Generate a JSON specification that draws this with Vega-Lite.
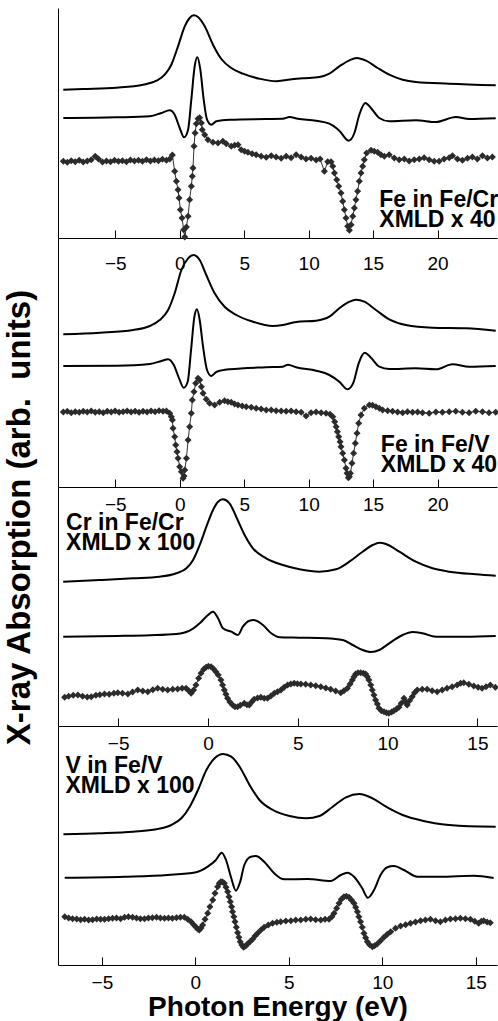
{
  "$schema": "https://vega.github.io/schema/vega-lite/v6.json",
  "padding": {"left": 3, "top": 8, "right": 0, "bottom": 0},
  "config": {
    "view": {"stroke": null},
    "font": "Liberation Sans",
    "axis": {"domainColor": "black", "tickColor": "black", "labelColor": "black", "labelFont": "Liberation Sans", "labelFontSize": 19, "tickSize": -8, "labelPadding": 16, "grid": false, "labelFlush": false, "domainWidth": 1, "tickWidth": 1, "titleColor": "black", "titleFont": "Liberation Sans"}
  },
  "title": {"text": "X-ray Absorption (arb.\u00a0 units)", "orient": "left", "anchor": "middle", "fontSize": 33, "fontWeight": "bold", "font": "Liberation Sans", "color": "black", "offset": 21.5, "dx": -3},
  "spacing": 0,
  "bounds": "flush",
  "datasets": {
    "p1": [
      {"s":"xas","e":-9.03,"a":14.83},{"s":"xas","e":-7.48,"a":14.9},{"s":"xas","e":-4.9,"a":15.03},{"s":"xas","e":-2.84,"a":15.33},{"s":"xas","e":-1.81,"a":15.73},{"s":"xas","e":-1.16,"a":16.33},{"s":"xas","e":-0.65,"a":17.33},{"s":"xas","e":-0.13,"a":19.17},{"s":"xas","e":0.39,"a":21.17},{"s":"xas","e":0.77,"a":22.0},{"s":"xas","e":1.08,"a":22.27},{"s":"xas","e":1.42,"a":22.1},{"s":"xas","e":1.94,"a":21.17},{"s":"xas","e":2.58,"a":19.33},{"s":"xas","e":3.23,"a":17.9},{"s":"xas","e":4.0,"a":17.0},{"s":"xas","e":4.9,"a":16.43},{"s":"xas","e":6.19,"a":15.93},{"s":"xas","e":7.48,"a":15.67},{"s":"xas","e":8.26,"a":15.8},{"s":"xas","e":9.55,"a":15.97},{"s":"xas","e":10.84,"a":16.1},{"s":"xas","e":11.61,"a":16.43},{"s":"xas","e":12.38,"a":17.17},{"s":"xas","e":13.16,"a":17.77},{"s":"xas","e":13.73,"a":18.0},{"s":"xas","e":14.45,"a":17.73},{"s":"xas","e":15.35,"a":17.0},{"s":"xas","e":16.25,"a":16.33},{"s":"xas","e":17.29,"a":15.83},{"s":"xas","e":18.32,"a":15.6},{"s":"xas","e":20.9,"a":15.43},{"s":"xas","e":24.51,"a":15.27},
      {"s":"calc","e":-9.03,"a":12.0},{"s":"calc","e":-4.9,"a":12.07},{"s":"calc","e":-2.32,"a":12.17},{"s":"calc","e":-1.42,"a":12.5},{"s":"calc","e":-0.77,"a":12.77},{"s":"calc","e":-0.39,"a":12.33},{"s":"calc","e":0.0,"a":11.0},{"s":"calc","e":0.34,"a":10.07},{"s":"calc","e":0.65,"a":10.83},{"s":"calc","e":0.9,"a":13.83},{"s":"calc","e":1.16,"a":17.17},{"s":"calc","e":1.37,"a":18.07},{"s":"calc","e":1.6,"a":16.83},{"s":"calc","e":1.86,"a":13.83},{"s":"calc","e":2.12,"a":11.83},{"s":"calc","e":2.45,"a":11.33},{"s":"calc","e":2.84,"a":11.67},{"s":"calc","e":3.87,"a":11.83},{"s":"calc","e":6.71,"a":11.9},{"s":"calc","e":8.0,"a":11.93},{"s":"calc","e":8.51,"a":12.1},{"s":"calc","e":9.16,"a":11.93},{"s":"calc","e":10.58,"a":11.73},{"s":"calc","e":11.61,"a":11.43},{"s":"calc","e":12.38,"a":10.73},{"s":"calc","e":13.1,"a":9.73},{"s":"calc","e":13.55,"a":10.5},{"s":"calc","e":13.93,"a":12.33},{"s":"calc","e":14.4,"a":13.5},{"s":"calc","e":14.83,"a":13.0},{"s":"calc","e":15.48,"a":12.0},{"s":"calc","e":16.25,"a":11.67},{"s":"calc","e":18.32,"a":11.77},{"s":"calc","e":19.87,"a":11.6},{"s":"calc","e":21.42,"a":12.1},{"s":"calc","e":22.45,"a":11.9},{"s":"calc","e":24.51,"a":11.97},
      {"s":"exp","e":-9.03,"a":7.67},{"s":"exp","e":-8.72,"a":7.57},{"s":"exp","e":-8.41,"a":7.73},{"s":"exp","e":-8.1,"a":7.63},{"s":"exp","e":-7.79,"a":7.77},{"s":"exp","e":-7.48,"a":7.6},{"s":"exp","e":-7.17,"a":7.7},{"s":"exp","e":-6.86,"a":7.83},{"s":"exp","e":-6.55,"a":8.17},{"s":"exp","e":-6.3,"a":7.9},{"s":"exp","e":-5.99,"a":7.6},{"s":"exp","e":-5.68,"a":7.7},{"s":"exp","e":-5.37,"a":7.63},{"s":"exp","e":-5.06,"a":7.77},{"s":"exp","e":-4.75,"a":7.67},{"s":"exp","e":-4.44,"a":7.73},{"s":"exp","e":-4.13,"a":7.63},{"s":"exp","e":-3.82,"a":7.8},{"s":"exp","e":-3.51,"a":7.7},{"s":"exp","e":-3.2,"a":7.77},{"s":"exp","e":-2.89,"a":7.67},{"s":"exp","e":-2.58,"a":7.83},{"s":"exp","e":-2.27,"a":7.7},{"s":"exp","e":-1.96,"a":7.8},{"s":"exp","e":-1.65,"a":7.73},{"s":"exp","e":-1.34,"a":7.87},{"s":"exp","e":-1.03,"a":7.77},{"s":"exp","e":-0.77,"a":7.9},{"s":"exp","e":-0.57,"a":8.3},{"s":"exp","e":-0.39,"a":6.67},{"s":"exp","e":-0.26,"a":5.67},{"s":"exp","e":-0.13,"a":4.83},{"s":"exp","e":-0.05,"a":4.0},{"s":"exp","e":0.05,"a":2.83},{"s":"exp","e":0.18,"a":2.0},{"s":"exp","e":0.31,"a":0.83},{"s":"exp","e":0.39,"a":0.1},{"s":"exp","e":0.52,"a":1.1},{"s":"exp","e":0.65,"a":2.17},{"s":"exp","e":0.77,"a":3.83},{"s":"exp","e":0.9,"a":5.17},{"s":"exp","e":0.98,"a":6.17},{"s":"exp","e":1.03,"a":7.0},{"s":"exp","e":1.11,"a":9.17},{"s":"exp","e":1.19,"a":10.5},{"s":"exp","e":1.29,"a":11.43},{"s":"exp","e":1.42,"a":11.93},{"s":"exp","e":1.55,"a":12.03},{"s":"exp","e":1.68,"a":11.5},{"s":"exp","e":1.75,"a":10.83},{"s":"exp","e":1.94,"a":10.33},{"s":"exp","e":2.19,"a":9.83},{"s":"exp","e":2.58,"a":9.57},{"s":"exp","e":2.97,"a":9.5},{"s":"exp","e":3.35,"a":9.67},{"s":"exp","e":3.61,"a":9.43},{"s":"exp","e":4.0,"a":9.17},{"s":"exp","e":4.26,"a":9.27},{"s":"exp","e":4.52,"a":9.33},{"s":"exp","e":4.77,"a":8.83},{"s":"exp","e":5.03,"a":8.67},{"s":"exp","e":5.29,"a":8.57},{"s":"exp","e":5.62,"a":8.43},{"s":"exp","e":5.93,"a":8.33},{"s":"exp","e":6.32,"a":8.17},{"s":"exp","e":6.71,"a":8.07},{"s":"exp","e":7.1,"a":8.23},{"s":"exp","e":7.48,"a":8.1},{"s":"exp","e":7.87,"a":7.97},{"s":"exp","e":8.26,"a":8.17},{"s":"exp","e":8.64,"a":8.03},{"s":"exp","e":9.03,"a":8.33},{"s":"exp","e":9.42,"a":8.1},{"s":"exp","e":9.8,"a":7.9},{"s":"exp","e":10.19,"a":7.97},{"s":"exp","e":10.58,"a":7.8},{"s":"exp","e":10.89,"a":7.9},{"s":"exp","e":11.22,"a":6.67},{"s":"exp","e":11.48,"a":7.63},{"s":"exp","e":11.74,"a":7.63},{"s":"exp","e":11.87,"a":7.17},{"s":"exp","e":12.0,"a":6.5},{"s":"exp","e":12.18,"a":5.83},{"s":"exp","e":12.33,"a":5.17},{"s":"exp","e":12.51,"a":4.5},{"s":"exp","e":12.64,"a":3.67},{"s":"exp","e":12.77,"a":2.83},{"s":"exp","e":12.9,"a":2.0},{"s":"exp","e":13.03,"a":1.17},{"s":"exp","e":13.16,"a":0.77},{"s":"exp","e":13.29,"a":1.33},{"s":"exp","e":13.42,"a":2.17},{"s":"exp","e":13.55,"a":3.0},{"s":"exp","e":13.67,"a":3.83},{"s":"exp","e":13.8,"a":4.67},{"s":"exp","e":13.93,"a":5.67},{"s":"exp","e":14.06,"a":6.5},{"s":"exp","e":14.19,"a":7.17},{"s":"exp","e":14.32,"a":7.83},{"s":"exp","e":14.5,"a":8.5},{"s":"exp","e":14.84,"a":8.77},{"s":"exp","e":15.09,"a":8.67},{"s":"exp","e":15.35,"a":8.57},{"s":"exp","e":15.61,"a":8.33},{"s":"exp","e":15.87,"a":8.17},{"s":"exp","e":16.25,"a":8.33},{"s":"exp","e":16.64,"a":8.0},{"s":"exp","e":17.03,"a":7.83},{"s":"exp","e":17.42,"a":7.9},{"s":"exp","e":17.8,"a":7.7},{"s":"exp","e":18.19,"a":7.83},{"s":"exp","e":18.58,"a":7.9},{"s":"exp","e":18.96,"a":8.03},{"s":"exp","e":19.35,"a":7.83},{"s":"exp","e":19.74,"a":7.67},{"s":"exp","e":20.12,"a":7.67},{"s":"exp","e":20.51,"a":7.9},{"s":"exp","e":20.9,"a":8.03},{"s":"exp","e":21.16,"a":8.23},{"s":"exp","e":21.54,"a":7.9},{"s":"exp","e":21.93,"a":7.77},{"s":"exp","e":22.32,"a":7.97},{"s":"exp","e":22.7,"a":8.1},{"s":"exp","e":23.09,"a":7.9},{"s":"exp","e":23.48,"a":8.23},{"s":"exp","e":23.87,"a":8.0},{"s":"exp","e":24.25,"a":8.1}
    ],
    "p2": [
      {"s":"xas","e":-9.03,"a":15.27},{"s":"xas","e":-6.19,"a":15.43},{"s":"xas","e":-3.61,"a":15.7},{"s":"xas","e":-2.32,"a":16.1},{"s":"xas","e":-1.55,"a":16.7},{"s":"xas","e":-0.9,"a":17.7},{"s":"xas","e":-0.39,"a":19.37},{"s":"xas","e":0.13,"a":21.7},{"s":"xas","e":0.65,"a":22.87},{"s":"xas","e":1.08,"a":23.2},{"s":"xas","e":1.55,"a":22.7},{"s":"xas","e":2.06,"a":21.2},{"s":"xas","e":2.71,"a":19.37},{"s":"xas","e":3.48,"a":18.03},{"s":"xas","e":4.39,"a":17.2},{"s":"xas","e":5.68,"a":16.53},{"s":"xas","e":7.22,"a":16.1},{"s":"xas","e":8.0,"a":16.2},{"s":"xas","e":9.03,"a":16.5},{"s":"xas","e":10.58,"a":16.63},{"s":"xas","e":11.61,"a":17.03},{"s":"xas","e":12.38,"a":17.87},{"s":"xas","e":13.16,"a":18.53},{"s":"xas","e":13.67,"a":18.73},{"s":"xas","e":14.32,"a":18.53},{"s":"xas","e":15.22,"a":17.7},{"s":"xas","e":16.25,"a":16.77},{"s":"xas","e":17.54,"a":16.2},{"s":"xas","e":19.61,"a":15.93},{"s":"xas","e":22.19,"a":15.87},{"s":"xas","e":24.51,"a":15.63},
      {"s":"calc","e":-9.03,"a":12.1},{"s":"calc","e":-4.9,"a":12.13},{"s":"calc","e":-2.32,"a":12.3},{"s":"calc","e":-1.42,"a":12.6},{"s":"calc","e":-0.9,"a":12.77},{"s":"calc","e":-0.46,"a":12.2},{"s":"calc","e":-0.05,"a":10.87},{"s":"calc","e":0.31,"a":9.93},{"s":"calc","e":0.62,"a":10.53},{"s":"calc","e":0.88,"a":13.7},{"s":"calc","e":1.14,"a":17.03},{"s":"calc","e":1.34,"a":17.77},{"s":"calc","e":1.55,"a":16.7},{"s":"calc","e":1.81,"a":14.03},{"s":"calc","e":2.12,"a":11.7},{"s":"calc","e":2.45,"a":11.1},{"s":"calc","e":2.84,"a":11.5},{"s":"calc","e":3.87,"a":11.77},{"s":"calc","e":6.71,"a":11.97},{"s":"calc","e":8.0,"a":12.03},{"s":"calc","e":8.39,"a":12.23},{"s":"calc","e":9.03,"a":11.97},{"s":"calc","e":10.58,"a":11.63},{"s":"calc","e":11.61,"a":11.2},{"s":"calc","e":12.38,"a":10.53},{"s":"calc","e":13.03,"a":9.77},{"s":"calc","e":13.47,"a":10.43},{"s":"calc","e":13.88,"a":12.37},{"s":"calc","e":14.35,"a":13.43},{"s":"calc","e":14.76,"a":13.03},{"s":"calc","e":15.48,"a":12.03},{"s":"calc","e":16.25,"a":11.8},{"s":"calc","e":18.32,"a":11.87},{"s":"calc","e":19.87,"a":11.77},{"s":"calc","e":21.16,"a":12.27},{"s":"calc","e":22.45,"a":12.03},{"s":"calc","e":24.51,"a":12.1},
      {"s":"exp","e":-9.03,"a":7.5},{"s":"exp","e":-8.72,"a":7.57},{"s":"exp","e":-8.41,"a":7.43},{"s":"exp","e":-8.1,"a":7.53},{"s":"exp","e":-7.79,"a":7.47},{"s":"exp","e":-7.48,"a":7.57},{"s":"exp","e":-7.17,"a":7.5},{"s":"exp","e":-6.86,"a":7.6},{"s":"exp","e":-6.55,"a":7.47},{"s":"exp","e":-6.24,"a":7.53},{"s":"exp","e":-5.93,"a":7.43},{"s":"exp","e":-5.62,"a":7.57},{"s":"exp","e":-5.31,"a":7.5},{"s":"exp","e":-5.01,"a":7.6},{"s":"exp","e":-4.7,"a":7.47},{"s":"exp","e":-4.39,"a":7.53},{"s":"exp","e":-4.08,"a":7.6},{"s":"exp","e":-3.77,"a":7.5},{"s":"exp","e":-3.46,"a":7.57},{"s":"exp","e":-3.15,"a":7.47},{"s":"exp","e":-2.84,"a":7.57},{"s":"exp","e":-2.53,"a":7.5},{"s":"exp","e":-2.22,"a":7.6},{"s":"exp","e":-1.91,"a":7.53},{"s":"exp","e":-1.6,"a":7.63},{"s":"exp","e":-1.29,"a":7.57},{"s":"exp","e":-1.03,"a":7.6},{"s":"exp","e":-0.77,"a":7.37},{"s":"exp","e":-0.65,"a":7.03},{"s":"exp","e":-0.57,"a":6.7},{"s":"exp","e":-0.52,"a":5.87},{"s":"exp","e":-0.39,"a":5.03},{"s":"exp","e":-0.31,"a":4.2},{"s":"exp","e":-0.21,"a":3.53},{"s":"exp","e":-0.13,"a":2.87},{"s":"exp","e":0.0,"a":2.03},{"s":"exp","e":0.13,"a":1.53},{"s":"exp","e":0.26,"a":0.87},{"s":"exp","e":0.34,"a":1.1},{"s":"exp","e":0.39,"a":1.7},{"s":"exp","e":0.52,"a":2.87},{"s":"exp","e":0.65,"a":4.7},{"s":"exp","e":0.77,"a":6.03},{"s":"exp","e":0.9,"a":7.37},{"s":"exp","e":0.98,"a":8.7},{"s":"exp","e":1.11,"a":9.53},{"s":"exp","e":1.24,"a":10.37},{"s":"exp","e":1.42,"a":10.87},{"s":"exp","e":1.55,"a":10.7},{"s":"exp","e":1.68,"a":10.03},{"s":"exp","e":1.81,"a":9.37},{"s":"exp","e":2.06,"a":8.77},{"s":"exp","e":2.32,"a":8.37},{"s":"exp","e":2.71,"a":8.2},{"s":"exp","e":3.1,"a":8.47},{"s":"exp","e":3.48,"a":8.63},{"s":"exp","e":3.74,"a":8.53},{"s":"exp","e":4.0,"a":8.47},{"s":"exp","e":4.26,"a":8.3},{"s":"exp","e":4.52,"a":8.2},{"s":"exp","e":4.85,"a":8.1},{"s":"exp","e":5.16,"a":8.03},{"s":"exp","e":5.55,"a":7.97},{"s":"exp","e":5.93,"a":7.87},{"s":"exp","e":6.32,"a":7.8},{"s":"exp","e":6.71,"a":7.7},{"s":"exp","e":7.1,"a":7.7},{"s":"exp","e":7.48,"a":7.63},{"s":"exp","e":7.87,"a":7.6},{"s":"exp","e":8.26,"a":7.57},{"s":"exp","e":8.64,"a":7.6},{"s":"exp","e":9.03,"a":7.53},{"s":"exp","e":9.42,"a":7.47},{"s":"exp","e":9.8,"a":7.1},{"s":"exp","e":10.19,"a":7.43},{"s":"exp","e":10.58,"a":7.5},{"s":"exp","e":10.97,"a":7.43},{"s":"exp","e":11.35,"a":7.37},{"s":"exp","e":11.66,"a":7.27},{"s":"exp","e":11.87,"a":7.03},{"s":"exp","e":12.02,"a":6.53},{"s":"exp","e":12.13,"a":6.03},{"s":"exp","e":12.23,"a":5.53},{"s":"exp","e":12.33,"a":5.03},{"s":"exp","e":12.44,"a":4.53},{"s":"exp","e":12.51,"a":4.03},{"s":"exp","e":12.64,"a":3.37},{"s":"exp","e":12.77,"a":2.7},{"s":"exp","e":12.9,"a":1.87},{"s":"exp","e":12.98,"a":1.37},{"s":"exp","e":13.08,"a":0.93},{"s":"exp","e":13.16,"a":1.03},{"s":"exp","e":13.24,"a":1.37},{"s":"exp","e":13.36,"a":2.37},{"s":"exp","e":13.49,"a":3.37},{"s":"exp","e":13.62,"a":4.37},{"s":"exp","e":13.75,"a":5.37},{"s":"exp","e":13.88,"a":6.37},{"s":"exp","e":14.06,"a":7.2},{"s":"exp","e":14.32,"a":7.87},{"s":"exp","e":14.71,"a":8.2},{"s":"exp","e":14.96,"a":8.17},{"s":"exp","e":15.22,"a":8.03},{"s":"exp","e":15.48,"a":7.87},{"s":"exp","e":15.74,"a":7.7},{"s":"exp","e":16.13,"a":7.63},{"s":"exp","e":16.51,"a":7.57},{"s":"exp","e":16.9,"a":7.5},{"s":"exp","e":17.29,"a":7.43},{"s":"exp","e":17.67,"a":7.53},{"s":"exp","e":18.06,"a":7.47},{"s":"exp","e":18.45,"a":7.5},{"s":"exp","e":18.83,"a":7.43},{"s":"exp","e":19.35,"a":7.37},{"s":"exp","e":19.87,"a":7.5},{"s":"exp","e":20.38,"a":7.47},{"s":"exp","e":20.9,"a":7.53},{"s":"exp","e":21.41,"a":7.57},{"s":"exp","e":21.93,"a":7.47},{"s":"exp","e":22.45,"a":7.43},{"s":"exp","e":22.96,"a":7.57},{"s":"exp","e":23.48,"a":7.53},{"s":"exp","e":23.99,"a":7.43},{"s":"exp","e":24.51,"a":7.47}
    ],
    "p3": [
      {"s":"xas","e":-8.06,"a":14.43},{"s":"xas","e":-6.02,"a":14.6},{"s":"xas","e":-4.17,"a":14.77},{"s":"xas","e":-2.69,"a":14.93},{"s":"xas","e":-1.76,"a":15.27},{"s":"xas","e":-1.2,"a":15.77},{"s":"xas","e":-0.83,"a":16.6},{"s":"xas","e":-0.46,"a":18.1},{"s":"xas","e":-0.09,"a":19.93},{"s":"xas","e":0.28,"a":21.6},{"s":"xas","e":0.56,"a":22.43},{"s":"xas","e":0.83,"a":22.67},{"s":"xas","e":1.2,"a":22.27},{"s":"xas","e":1.57,"a":20.93},{"s":"xas","e":2.04,"a":19.1},{"s":"xas","e":2.5,"a":17.77},{"s":"xas","e":3.24,"a":16.77},{"s":"xas","e":4.17,"a":16.1},{"s":"xas","e":5.09,"a":15.67},{"s":"xas","e":6.2,"a":15.43},{"s":"xas","e":7.13,"a":15.67},{"s":"xas","e":7.87,"a":16.43},{"s":"xas","e":8.61,"a":17.43},{"s":"xas","e":9.17,"a":18.1},{"s":"xas","e":9.54,"a":18.33},{"s":"xas","e":9.91,"a":18.2},{"s":"xas","e":10.65,"a":17.43},{"s":"xas","e":11.57,"a":16.43},{"s":"xas","e":12.5,"a":15.77},{"s":"xas","e":13.43,"a":15.43},{"s":"xas","e":14.91,"a":15.17},{"s":"xas","e":16.02,"a":15.03},
      {"s":"calc","e":-8.06,"a":8.93},{"s":"calc","e":-5.09,"a":9.0},{"s":"calc","e":-3.24,"a":9.07},{"s":"calc","e":-1.76,"a":9.2},{"s":"calc","e":-1.02,"a":9.53},{"s":"calc","e":-0.46,"a":10.27},{"s":"calc","e":0.0,"a":11.1},{"s":"calc","e":0.28,"a":11.43},{"s":"calc","e":0.56,"a":10.77},{"s":"calc","e":0.83,"a":9.77},{"s":"calc","e":1.3,"a":9.43},{"s":"calc","e":1.67,"a":9.1},{"s":"calc","e":1.94,"a":9.93},{"s":"calc","e":2.31,"a":10.53},{"s":"calc","e":2.54,"a":10.6},{"s":"calc","e":3.06,"a":10.1},{"s":"calc","e":3.52,"a":9.27},{"s":"calc","e":3.98,"a":8.87},{"s":"calc","e":5.09,"a":8.83},{"s":"calc","e":6.57,"a":8.77},{"s":"calc","e":7.5,"a":8.6},{"s":"calc","e":8.06,"a":8.1},{"s":"calc","e":8.61,"a":7.6},{"s":"calc","e":9.07,"a":7.4},{"s":"calc","e":9.54,"a":7.6},{"s":"calc","e":10.09,"a":8.27},{"s":"calc","e":10.83,"a":9.1},{"s":"calc","e":11.39,"a":9.4},{"s":"calc","e":11.94,"a":9.27},{"s":"calc","e":12.69,"a":8.93},{"s":"calc","e":14.35,"a":8.93},{"s":"calc","e":16.02,"a":9.0},
      {"s":"exp","e":-7.98,"a":2.87},{"s":"exp","e":-7.76,"a":2.97},{"s":"exp","e":-7.5,"a":3.07},{"s":"exp","e":-7.24,"a":3.1},{"s":"exp","e":-6.98,"a":2.97},{"s":"exp","e":-6.72,"a":2.9},{"s":"exp","e":-6.5,"a":2.93},{"s":"exp","e":-6.24,"a":3.07},{"s":"exp","e":-6.02,"a":3.13},{"s":"exp","e":-5.76,"a":3.2},{"s":"exp","e":-5.5,"a":3.17},{"s":"exp","e":-5.24,"a":3.27},{"s":"exp","e":-5.02,"a":3.33},{"s":"exp","e":-4.76,"a":3.27},{"s":"exp","e":-4.46,"a":3.2},{"s":"exp","e":-4.2,"a":3.4},{"s":"exp","e":-3.91,"a":3.6},{"s":"exp","e":-3.63,"a":3.5},{"s":"exp","e":-3.35,"a":3.43},{"s":"exp","e":-3.07,"a":3.63},{"s":"exp","e":-2.8,"a":3.77},{"s":"exp","e":-2.52,"a":3.67},{"s":"exp","e":-2.24,"a":3.6},{"s":"exp","e":-1.96,"a":3.67},{"s":"exp","e":-1.69,"a":3.7},{"s":"exp","e":-1.44,"a":3.77},{"s":"exp","e":-1.22,"a":3.77},{"s":"exp","e":-1.07,"a":3.53},{"s":"exp","e":-0.94,"a":3.27},{"s":"exp","e":-0.8,"a":3.6},{"s":"exp","e":-0.67,"a":4.1},{"s":"exp","e":-0.52,"a":4.77},{"s":"exp","e":-0.39,"a":5.27},{"s":"exp","e":-0.24,"a":5.67},{"s":"exp","e":-0.11,"a":5.87},{"s":"exp","e":0.02,"a":5.97},{"s":"exp","e":0.17,"a":5.93},{"s":"exp","e":0.3,"a":5.73},{"s":"exp","e":0.44,"a":5.43},{"s":"exp","e":0.57,"a":5.1},{"s":"exp","e":0.72,"a":4.6},{"s":"exp","e":0.81,"a":4.1},{"s":"exp","e":0.91,"a":3.6},{"s":"exp","e":1.0,"a":3.17},{"s":"exp","e":1.09,"a":2.77},{"s":"exp","e":1.22,"a":2.4},{"s":"exp","e":1.37,"a":2.1},{"s":"exp","e":1.5,"a":1.93},{"s":"exp","e":1.65,"a":1.93},{"s":"exp","e":1.8,"a":2.07},{"s":"exp","e":2.02,"a":2.27},{"s":"exp","e":2.17,"a":2.13},{"s":"exp","e":2.3,"a":2.1},{"s":"exp","e":2.43,"a":2.4},{"s":"exp","e":2.57,"a":2.67},{"s":"exp","e":2.76,"a":2.8},{"s":"exp","e":2.94,"a":2.87},{"s":"exp","e":3.13,"a":2.77},{"s":"exp","e":3.31,"a":2.77},{"s":"exp","e":3.5,"a":3.0},{"s":"exp","e":3.69,"a":3.27},{"s":"exp","e":3.87,"a":3.43},{"s":"exp","e":4.06,"a":3.6},{"s":"exp","e":4.24,"a":3.87},{"s":"exp","e":4.43,"a":4.1},{"s":"exp","e":4.61,"a":4.2},{"s":"exp","e":4.8,"a":4.27},{"s":"exp","e":4.98,"a":4.23},{"s":"exp","e":5.17,"a":4.2},{"s":"exp","e":5.44,"a":4.17},{"s":"exp","e":5.72,"a":4.1},{"s":"exp","e":6.0,"a":4.03},{"s":"exp","e":6.28,"a":3.93},{"s":"exp","e":6.56,"a":3.8},{"s":"exp","e":6.83,"a":3.67},{"s":"exp","e":7.11,"a":3.5},{"s":"exp","e":7.39,"a":3.33},{"s":"exp","e":7.57,"a":3.53},{"s":"exp","e":7.76,"a":3.77},{"s":"exp","e":7.91,"a":4.2},{"s":"exp","e":8.04,"a":4.6},{"s":"exp","e":8.13,"a":4.93},{"s":"exp","e":8.22,"a":5.2},{"s":"exp","e":8.35,"a":5.33},{"s":"exp","e":8.5,"a":5.33},{"s":"exp","e":8.65,"a":5.27},{"s":"exp","e":8.78,"a":5.2},{"s":"exp","e":8.87,"a":4.93},{"s":"exp","e":8.96,"a":4.6},{"s":"exp","e":9.06,"a":4.1},{"s":"exp","e":9.15,"a":3.6},{"s":"exp","e":9.24,"a":3.1},{"s":"exp","e":9.33,"a":2.6},{"s":"exp","e":9.43,"a":2.2},{"s":"exp","e":9.52,"a":1.77},{"s":"exp","e":9.65,"a":1.53},{"s":"exp","e":9.8,"a":1.43},{"s":"exp","e":9.94,"a":1.33},{"s":"exp","e":10.07,"a":1.27},{"s":"exp","e":10.22,"a":1.4},{"s":"exp","e":10.35,"a":1.53},{"s":"exp","e":10.5,"a":1.7},{"s":"exp","e":10.63,"a":1.87},{"s":"exp","e":10.76,"a":2.27},{"s":"exp","e":10.91,"a":2.77},{"s":"exp","e":11.0,"a":2.43},{"s":"exp","e":11.09,"a":2.1},{"s":"exp","e":11.22,"a":2.53},{"s":"exp","e":11.37,"a":2.93},{"s":"exp","e":11.5,"a":3.33},{"s":"exp","e":11.65,"a":3.6},{"s":"exp","e":11.93,"a":3.67},{"s":"exp","e":12.2,"a":3.67},{"s":"exp","e":12.48,"a":3.53},{"s":"exp","e":12.76,"a":3.43},{"s":"exp","e":13.04,"a":3.6},{"s":"exp","e":13.31,"a":3.77},{"s":"exp","e":13.59,"a":3.93},{"s":"exp","e":13.87,"a":4.1},{"s":"exp","e":14.06,"a":4.27},{"s":"exp","e":14.24,"a":4.33},{"s":"exp","e":14.52,"a":4.17},{"s":"exp","e":14.8,"a":4.0},{"s":"exp","e":15.04,"a":3.87},{"s":"exp","e":15.26,"a":3.77},{"s":"exp","e":15.48,"a":3.93},{"s":"exp","e":15.72,"a":4.1},{"s":"exp","e":16.0,"a":3.87}
    ],
    "p4": [
      {"s":"xas","e":-7.06,"a":13.07},{"s":"xas","e":-5.11,"a":13.17},{"s":"xas","e":-3.33,"a":13.33},{"s":"xas","e":-2.08,"a":13.57},{"s":"xas","e":-1.28,"a":14.0},{"s":"xas","e":-0.75,"a":14.67},{"s":"xas","e":-0.3,"a":15.83},{"s":"xas","e":0.14,"a":17.5},{"s":"xas","e":0.59,"a":19.5},{"s":"xas","e":1.03,"a":20.67},{"s":"xas","e":1.48,"a":21.1},{"s":"xas","e":1.92,"a":20.83},{"s":"xas","e":2.37,"a":19.83},{"s":"xas","e":2.9,"a":18.0},{"s":"xas","e":3.43,"a":16.5},{"s":"xas","e":4.15,"a":15.5},{"s":"xas","e":5.04,"a":14.9},{"s":"xas","e":5.93,"a":14.67},{"s":"xas","e":6.64,"a":14.9},{"s":"xas","e":7.35,"a":15.83},{"s":"xas","e":8.06,"a":16.77},{"s":"xas","e":8.77,"a":17.1},{"s":"xas","e":9.48,"a":16.67},{"s":"xas","e":10.2,"a":15.83},{"s":"xas","e":11.09,"a":15.0},{"s":"xas","e":12.15,"a":14.43},{"s":"xas","e":13.58,"a":14.0},{"s":"xas","e":14.64,"a":13.87},{"s":"xas","e":16.07,"a":13.83},
      {"s":"calc","e":-6.99,"a":8.73},{"s":"calc","e":-3.79,"a":8.83},{"s":"calc","e":-1.48,"a":9.0},{"s":"calc","e":0.04,"a":9.27},{"s":"calc","e":0.66,"a":9.83},{"s":"calc","e":1.1,"a":10.5},{"s":"calc","e":1.41,"a":11.23},{"s":"calc","e":1.64,"a":10.5},{"s":"calc","e":1.9,"a":8.83},{"s":"calc","e":2.17,"a":7.43},{"s":"calc","e":2.4,"a":8.33},{"s":"calc","e":2.62,"a":10.0},{"s":"calc","e":2.97,"a":10.83},{"s":"calc","e":3.24,"a":10.9},{"s":"calc","e":3.68,"a":10.33},{"s":"calc","e":4.22,"a":9.17},{"s":"calc","e":4.75,"a":8.57},{"s":"calc","e":6.0,"a":8.6},{"s":"calc","e":7.24,"a":8.4},{"s":"calc","e":7.78,"a":9.0},{"s":"calc","e":8.13,"a":9.23},{"s":"calc","e":8.49,"a":8.83},{"s":"calc","e":8.93,"a":7.67},{"s":"calc","e":9.23,"a":6.73},{"s":"calc","e":9.56,"a":7.5},{"s":"calc","e":9.91,"a":9.0},{"s":"calc","e":10.27,"a":9.77},{"s":"calc","e":10.62,"a":9.9},{"s":"calc","e":11.16,"a":9.5},{"s":"calc","e":11.87,"a":8.83},{"s":"calc","e":13.11,"a":8.83},{"s":"calc","e":14.89,"a":8.93},{"s":"calc","e":15.96,"a":8.7},
      {"s":"exp","e":-6.99,"a":4.83},{"s":"exp","e":-6.78,"a":4.7},{"s":"exp","e":-6.57,"a":4.63},{"s":"exp","e":-6.35,"a":4.6},{"s":"exp","e":-6.14,"a":4.53},{"s":"exp","e":-5.93,"a":4.57},{"s":"exp","e":-5.71,"a":4.5},{"s":"exp","e":-5.5,"a":4.53},{"s":"exp","e":-5.28,"a":4.6},{"s":"exp","e":-5.07,"a":4.57},{"s":"exp","e":-4.86,"a":4.57},{"s":"exp","e":-4.64,"a":4.63},{"s":"exp","e":-4.43,"a":4.67},{"s":"exp","e":-4.22,"a":4.7},{"s":"exp","e":-4.0,"a":4.63},{"s":"exp","e":-3.79,"a":4.77},{"s":"exp","e":-3.58,"a":4.83},{"s":"exp","e":-3.36,"a":4.77},{"s":"exp","e":-3.15,"a":4.7},{"s":"exp","e":-2.94,"a":4.63},{"s":"exp","e":-2.72,"a":4.63},{"s":"exp","e":-2.51,"a":4.7},{"s":"exp","e":-2.3,"a":4.73},{"s":"exp","e":-2.08,"a":4.77},{"s":"exp","e":-1.87,"a":4.7},{"s":"exp","e":-1.65,"a":4.67},{"s":"exp","e":-1.44,"a":4.7},{"s":"exp","e":-1.23,"a":4.67},{"s":"exp","e":-1.01,"a":4.73},{"s":"exp","e":-0.8,"a":4.77},{"s":"exp","e":-0.59,"a":4.77},{"s":"exp","e":-0.41,"a":4.57},{"s":"exp","e":-0.23,"a":4.33},{"s":"exp","e":-0.09,"a":4.03},{"s":"exp","e":0.04,"a":3.77},{"s":"exp","e":0.14,"a":3.57},{"s":"exp","e":0.21,"a":3.5},{"s":"exp","e":0.3,"a":3.7},{"s":"exp","e":0.39,"a":4.0},{"s":"exp","e":0.52,"a":4.57},{"s":"exp","e":0.66,"a":5.17},{"s":"exp","e":0.78,"a":5.83},{"s":"exp","e":0.93,"a":6.5},{"s":"exp","e":1.05,"a":7.17},{"s":"exp","e":1.19,"a":7.83},{"s":"exp","e":1.28,"a":8.17},{"s":"exp","e":1.37,"a":8.33},{"s":"exp","e":1.46,"a":8.3},{"s":"exp","e":1.55,"a":8.17},{"s":"exp","e":1.64,"a":7.77},{"s":"exp","e":1.73,"a":7.33},{"s":"exp","e":1.8,"a":6.83},{"s":"exp","e":1.87,"a":6.33},{"s":"exp","e":1.94,"a":5.83},{"s":"exp","e":1.99,"a":5.33},{"s":"exp","e":2.06,"a":4.83},{"s":"exp","e":2.12,"a":4.33},{"s":"exp","e":2.19,"a":3.77},{"s":"exp","e":2.26,"a":3.23},{"s":"exp","e":2.33,"a":2.77},{"s":"exp","e":2.4,"a":2.33},{"s":"exp","e":2.49,"a":2.0},{"s":"exp","e":2.58,"a":1.77},{"s":"exp","e":2.69,"a":1.9},{"s":"exp","e":2.79,"a":2.1},{"s":"exp","e":2.92,"a":2.33},{"s":"exp","e":3.06,"a":2.57},{"s":"exp","e":3.19,"a":2.9},{"s":"exp","e":3.33,"a":3.17},{"s":"exp","e":3.51,"a":3.5},{"s":"exp","e":3.68,"a":3.77},{"s":"exp","e":3.9,"a":4.0},{"s":"exp","e":4.13,"a":4.17},{"s":"exp","e":4.36,"a":4.27},{"s":"exp","e":4.57,"a":4.33},{"s":"exp","e":4.84,"a":4.4},{"s":"exp","e":5.11,"a":4.43},{"s":"exp","e":5.37,"a":4.5},{"s":"exp","e":5.64,"a":4.5},{"s":"exp","e":5.91,"a":4.57},{"s":"exp","e":6.17,"a":4.6},{"s":"exp","e":6.44,"a":4.53},{"s":"exp","e":6.71,"a":4.5},{"s":"exp","e":6.94,"a":4.57},{"s":"exp","e":7.15,"a":4.57},{"s":"exp","e":7.3,"a":4.83},{"s":"exp","e":7.42,"a":5.17},{"s":"exp","e":7.56,"a":5.67},{"s":"exp","e":7.69,"a":6.17},{"s":"exp","e":7.81,"a":6.57},{"s":"exp","e":7.95,"a":6.83},{"s":"exp","e":8.08,"a":6.87},{"s":"exp","e":8.22,"a":6.77},{"s":"exp","e":8.35,"a":6.5},{"s":"exp","e":8.49,"a":6.17},{"s":"exp","e":8.58,"a":5.77},{"s":"exp","e":8.67,"a":5.33},{"s":"exp","e":8.75,"a":4.83},{"s":"exp","e":8.84,"a":4.33},{"s":"exp","e":8.93,"a":3.77},{"s":"exp","e":9.02,"a":3.17},{"s":"exp","e":9.11,"a":2.73},{"s":"exp","e":9.2,"a":2.33},{"s":"exp","e":9.32,"a":2.03},{"s":"exp","e":9.47,"a":1.83},{"s":"exp","e":9.59,"a":1.93},{"s":"exp","e":9.73,"a":2.1},{"s":"exp","e":9.91,"a":2.43},{"s":"exp","e":10.09,"a":2.77},{"s":"exp","e":10.27,"a":3.07},{"s":"exp","e":10.45,"a":3.33},{"s":"exp","e":10.71,"a":3.67},{"s":"exp","e":10.98,"a":3.9},{"s":"exp","e":11.25,"a":4.03},{"s":"exp","e":11.51,"a":4.17},{"s":"exp","e":11.78,"a":4.3},{"s":"exp","e":12.05,"a":4.43},{"s":"exp","e":12.31,"a":4.5},{"s":"exp","e":12.58,"a":4.57},{"s":"exp","e":12.85,"a":4.43},{"s":"exp","e":13.11,"a":4.33},{"s":"exp","e":13.38,"a":4.5},{"s":"exp","e":13.65,"a":4.6},{"s":"exp","e":13.92,"a":4.63},{"s":"exp","e":14.18,"a":4.67},{"s":"exp","e":14.45,"a":4.63},{"s":"exp","e":14.72,"a":4.57},{"s":"exp","e":14.95,"a":4.37},{"s":"exp","e":15.16,"a":4.17},{"s":"exp","e":15.3,"a":4.37},{"s":"exp","e":15.43,"a":4.43},{"s":"exp","e":15.61,"a":4.3},{"s":"exp","e":15.78,"a":4.23}
    ]
  },
  "vconcat": [
    {
      "width": 439, "height": 230,
      "data": {"name": "p1"},
      "encoding": {
        "x": {"field": "e", "type": "quantitative", "scale": {"domain": [-9.44, 24.61], "nice": false, "zero": false}, "axis": {"values": [-5, 0, 5, 10, 15, 20], "title": null, "labelPadding": 24}},
        "y": {"field": "a", "type": "quantitative", "scale": {"domain": [0, 23], "nice": false, "zero": false}, "axis": {"ticks": false, "labels": false, "title": null}}
      },
      "layer": [
        {"transform": [{"filter": "datum.s != 'exp'"}], "mark": {"type": "line", "interpolate": "monotone", "color": "black", "strokeWidth": 2}, "encoding": {"detail": {"field": "s"}}},
        {"transform": [{"filter": "datum.s == 'exp'"}], "mark": {"type": "line", "color": "#333333", "strokeWidth": 1, "point": {"shape": "diamond", "size": 49, "filled": true, "color": "#2b2b2b"}}},
        {"data": {"values": [{"e": 15.48, "a": 3.1, "t": "Fe in Fe/Cr\nXMLD x 40"}]}, "mark": {"type": "text", "align": "left", "baseline": "alphabetic", "lineBreak": "\n", "lineHeight": 20, "fontSize": 23, "fontWeight": "bold", "font": "Liberation Sans", "color": "black"}, "encoding": {"text": {"field": "t"}}},
        {"data": {"values": [{"t": "frame"}]}, "mark": {"type": "rule", "color": "black", "strokeWidth": 1}, "encoding": {"x": {"datum": -9.44}, "x2": {"datum": 24.61}, "y": {"datum": 22.95}}}
      ]
    },
    {
      "width": 439, "height": 249,
      "data": {"name": "p2"},
      "encoding": {
        "x": {"field": "e", "type": "quantitative", "scale": {"domain": [-9.44, 24.61], "nice": false, "zero": false}, "axis": {"values": [-5, 0, 5, 10, 15, 20], "title": null}},
        "y": {"field": "a", "type": "quantitative", "scale": {"domain": [0, 24.9], "nice": false, "zero": false}, "axis": {"ticks": false, "labels": false, "title": null}}
      },
      "layer": [
        {"transform": [{"filter": "datum.s != 'exp'"}], "mark": {"type": "line", "interpolate": "monotone", "color": "black", "strokeWidth": 2}, "encoding": {"detail": {"field": "s"}}},
        {"transform": [{"filter": "datum.s == 'exp'"}], "mark": {"type": "line", "color": "#333333", "strokeWidth": 1, "point": {"shape": "diamond", "size": 49, "filled": true, "color": "#2b2b2b"}}},
        {"data": {"values": [{"e": 15.6, "a": 3.53, "t": "Fe in Fe/V\nXMLD x 40"}]}, "mark": {"type": "text", "align": "left", "baseline": "alphabetic", "lineBreak": "\n", "lineHeight": 20, "fontSize": 23, "fontWeight": "bold", "font": "Liberation Sans", "color": "black"}, "encoding": {"text": {"field": "t"}}}
      ]
    },
    {
      "width": 439, "height": 239,
      "data": {"name": "p3"},
      "encoding": {
        "x": {"field": "e", "type": "quantitative", "scale": {"domain": [-8.35, 16.09], "nice": false, "zero": false}, "axis": {"values": [-5, 0, 5, 10, 15], "title": null}},
        "y": {"field": "a", "type": "quantitative", "scale": {"domain": [0, 23.9], "nice": false, "zero": false}, "axis": {"ticks": false, "labels": false, "title": null}}
      },
      "layer": [
        {"transform": [{"filter": "datum.s != 'exp'"}], "mark": {"type": "line", "interpolate": "monotone", "color": "black", "strokeWidth": 2}, "encoding": {"detail": {"field": "s"}}},
        {"transform": [{"filter": "datum.s == 'exp'"}], "mark": {"type": "line", "color": "#333333", "strokeWidth": 1, "point": {"shape": "diamond", "size": 49, "filled": true, "color": "#2b2b2b"}}},
        {"data": {"values": [{"e": -7.9, "a": 19.6, "t": "Cr in Fe/Cr\nXMLD x 100"}]}, "mark": {"type": "text", "align": "left", "baseline": "alphabetic", "lineBreak": "\n", "lineHeight": 20, "fontSize": 23, "fontWeight": "bold", "font": "Liberation Sans", "color": "black"}, "encoding": {"text": {"field": "t"}}}
      ]
    },
    {
      "width": 439, "height": 239,
      "data": {"name": "p4"},
      "encoding": {
        "x": {"field": "e", "type": "quantitative", "scale": {"domain": [-7.35, 16.14], "nice": false, "zero": false}, "axis": {"values": [-5, 0, 5, 10, 15], "title": "Photon Energy (eV)", "titleFontSize": 28, "titleFontWeight": "bold", "titlePadding": 1}},
        "y": {"field": "a", "type": "quantitative", "scale": {"domain": [0, 23.9], "nice": false, "zero": false}, "axis": {"ticks": false, "labels": false, "title": null}}
      },
      "layer": [
        {"transform": [{"filter": "datum.s != 'exp'"}], "mark": {"type": "line", "interpolate": "monotone", "color": "black", "strokeWidth": 2}, "encoding": {"detail": {"field": "s"}}},
        {"transform": [{"filter": "datum.s == 'exp'"}], "mark": {"type": "line", "color": "#333333", "strokeWidth": 1, "point": {"shape": "diamond", "size": 49, "filled": true, "color": "#2b2b2b"}}},
        {"data": {"values": [{"e": -6.95, "a": 19.2, "t": "V in Fe/V\nXMLD x 100"}]}, "mark": {"type": "text", "align": "left", "baseline": "alphabetic", "lineBreak": "\n", "lineHeight": 20, "fontSize": 23, "fontWeight": "bold", "font": "Liberation Sans", "color": "black"}, "encoding": {"text": {"field": "t"}}}
      ]
    }
  ]
}
